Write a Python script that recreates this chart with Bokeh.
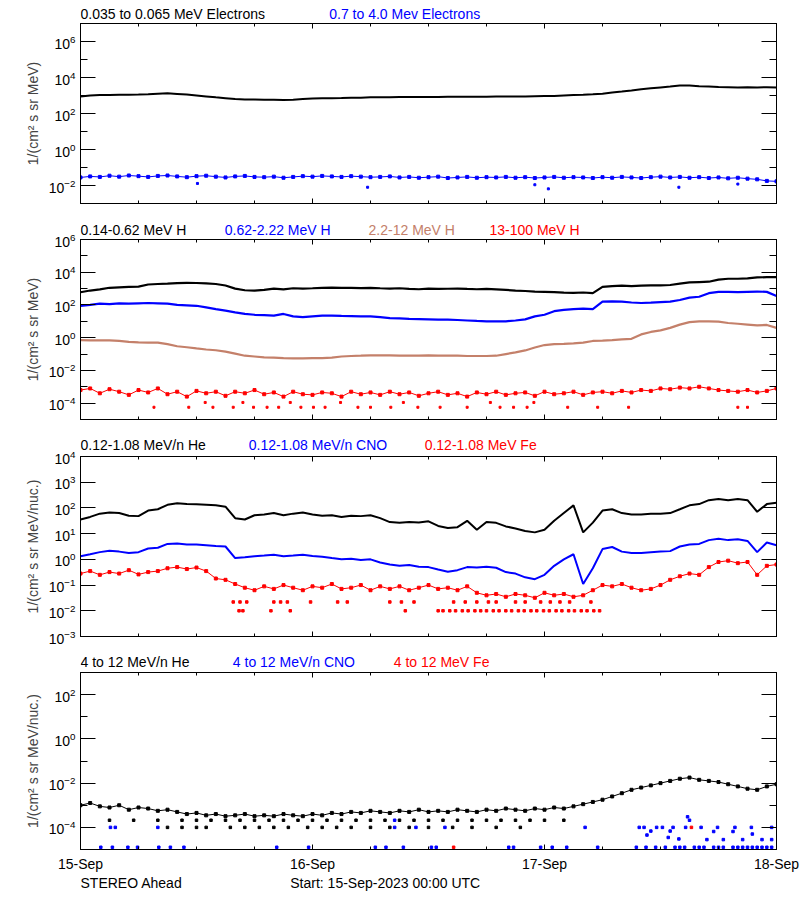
from bokeh.plotting import figure
from bokeh.layouts import column
from bokeh.models import (LogAxis, LinearAxis, FixedTicker, Range1d,
                          CustomJSTickFormatter, LogTickFormatter)
from bokeh.core.properties import value
from bokeh.embed import file_html
from bokeh.resources import INLINE

FONT = "Liberation Sans"
BLACK, BLUE, BROWN, RED = "#000000", "#0000FF", "#C4806A", "#FF0000"

# ---------------- time axis (hours since 15-Sep-2023 00:00 UTC) ----------------
hours = list(range(73))
day_ticks = [0, 24, 48, 72]
day_labels = ["15-Sep", "16-Sep", "17-Sep", "18-Sep"]
six_hour_ticks = [6, 12, 18, 30, 36, 42, 54, 60, 66]

# ---------------- panel 1 : electrons ----------------
e_035_065 = [890, 1000, 1050, 1070, 1100, 1100, 1120, 1170, 1260, 1320,
             1230, 1120, 1000, 890, 790, 710, 630, 600, 590, 575,
             575, 560, 575, 630, 690, 710, 710, 720, 740, 760,
             790, 790, 810, 830, 830, 830, 830, 830, 850, 850,
             850, 850, 850, 870, 870, 890, 890, 910, 930, 950,
             1000, 1050, 1100, 1170, 1260, 1450, 1660, 1910, 2240, 2510,
             2820, 3160, 3550, 3550, 3310, 3160, 2950, 2880, 2820, 2880,
             2820, 2880, 2820]
e_07_40 = [0.028, 0.032, 0.030, 0.035, 0.031, 0.036, 0.033, 0.030, 0.034, 0.036,
           0.032, 0.029, 0.033, 0.035, 0.031, 0.028, 0.032, 0.034, 0.030, 0.029,
           0.031, 0.027, 0.030, 0.033, 0.031, 0.034, 0.032, 0.030, 0.033, 0.031,
           0.029, 0.030, 0.032, 0.028, 0.030, 0.027, 0.029, 0.031, 0.026, 0.028,
           0.030, 0.027, 0.029, 0.028, 0.030, 0.027, 0.029, 0.026, 0.028, 0.030,
           0.027, 0.029, 0.028, 0.026, 0.029, 0.027, 0.030, 0.028, 0.026, 0.029,
           0.031, 0.028, 0.030, 0.027, 0.029, 0.026, 0.028, 0.025, 0.027, 0.024,
           0.022, 0.018, 0.017]
e_07_40_low_t = [12.1, 29.7, 47.0, 48.4, 61.9, 68.0]
e_07_40_low = [0.013, 0.008, 0.011, 0.0065, 0.008, 0.012]

# ---------------- panel 2 : protons ----------------
h_014_062 = [600, 760, 890, 1120, 1200, 1260, 1320, 1780, 1910, 2000,
             2140, 2240, 2190, 2090, 1910, 1550, 1000, 790, 760, 830,
             1000, 890, 1050, 1000, 1050, 1120, 1150, 1120, 1100, 1070,
             1120, 1050, 1000, 1050, 950, 910, 1000, 950, 980, 1000,
             950, 910, 950, 890, 830, 760, 710, 660, 630, 600,
             560, 550, 575, 525, 1260, 1410, 1510, 1410, 1510, 1580,
             1580, 1660, 2000, 2400, 2510, 2630, 3550, 3980, 3980, 4170,
             4790, 5010, 5010]
h_062_222 = [89, 100, 120, 112, 126, 120, 126, 132, 126, 120,
             100, 95, 89, 71, 56, 45, 35.5, 28.2, 25.1, 24,
             22.4, 28.2, 20, 17.8, 20, 22.4, 22.4, 21.4, 20.9, 20,
             20, 17.8, 15.8, 15.1, 14.1, 13.8, 13.2, 12.6, 12.6, 12.0,
             11.2, 10.5, 10, 10, 10, 11.2, 13.2, 20, 25.1, 41.7,
             50, 56, 60, 56, 158, 166, 158, 141, 132, 138,
             148, 158, 200, 282, 316, 525, 631, 631, 603, 631,
             661, 631, 355]
h_22_12 = [0.71, 0.69, 0.68, 0.68, 0.63, 0.56, 0.52, 0.50, 0.50, 0.40,
           0.30, 0.26, 0.22, 0.19, 0.17, 0.14, 0.105, 0.079, 0.071, 0.063,
           0.060, 0.056, 0.054, 0.054, 0.056, 0.056, 0.060, 0.071, 0.076, 0.079,
           0.083, 0.083, 0.083, 0.079, 0.079, 0.079, 0.083, 0.079, 0.079, 0.079,
           0.076, 0.076, 0.076, 0.079, 0.10, 0.126, 0.166, 0.25, 0.355, 0.40,
           0.42, 0.45, 0.50, 0.63, 0.66, 0.71, 0.79, 0.85, 1.58, 2.24,
           2.82, 3.98, 6.3, 8.9, 10, 10, 9.5, 7.9, 7.1, 6.3,
           5.6, 6.0, 4.0]
h_13_100 = [6.3e-4, 7.9e-4, 4.0e-4, 7.1e-4, 5.0e-4, 3.2e-4, 6.3e-4, 4.5e-4, 7.9e-4, 3.5e-4,
            5.0e-4, 2.5e-4, 5.6e-4, 4.0e-4, 5.0e-4, 2.8e-4, 5.0e-4, 4.0e-4, 6.3e-4, 3.5e-4,
            4.5e-4, 2.5e-4, 5.0e-4, 3.5e-4, 3.2e-4, 4.5e-4, 4.0e-4, 2.5e-4, 5.0e-4, 3.5e-4,
            4.5e-4, 3.2e-4, 5.0e-4, 3.5e-4, 4.5e-4, 2.8e-4, 4.0e-4, 5.0e-4, 3.2e-4, 4.0e-4,
            2.5e-4, 4.5e-4, 3.5e-4, 5.0e-4, 3.2e-4, 4.0e-4, 4.5e-4, 2.8e-4, 5.0e-4, 3.5e-4,
            4.0e-4, 5.0e-4, 3.2e-4, 4.5e-4, 5.0e-4, 4.0e-4, 5.6e-4, 4.5e-4, 6.3e-4, 5.6e-4,
            7.9e-4, 7.1e-4, 8.9e-4, 7.9e-4, 1.0e-3, 7.9e-4, 6.3e-4, 5.6e-4, 5.0e-4, 6.3e-4,
            4.5e-4, 5.6e-4, 7.9e-4]
h_13_100_low_t = [7.6, 11.2, 12.9, 13.7, 15.8, 16.8, 17.9, 19.3, 20.5, 21.7, 22.8,
                  24.1, 25.3, 26.9, 28.7, 30.0, 32.1, 33.4, 34.9, 37.2, 40.0, 42.4,
                  43.4, 44.8, 46.2, 46.9, 50.4, 53.5, 56.7, 68.0, 69.0]
h_13_100_low = [5.6e-5, 5.6e-5, 1.1e-4, 5.6e-5, 5.6e-5, 1.1e-4, 5.6e-5, 5.6e-5, 5.6e-5, 1.1e-4, 5.6e-5,
                5.6e-5, 5.6e-5, 1.1e-4, 5.6e-5, 5.6e-5, 5.6e-5, 1.1e-4, 5.6e-5, 5.6e-5, 5.6e-5, 1.1e-4,
                5.6e-5, 5.6e-5, 5.6e-5, 1.1e-4, 5.6e-5, 5.6e-5, 5.6e-5, 5.6e-5, 5.6e-5]

# ---------------- panel 3 : 0.12-1.08 MeV/n ions ----------------
he_lo = [35.5, 44.7, 60, 66, 63, 50, 48, 79, 89, 132,
         151, 141, 138, 132, 126, 112, 40, 35.5, 52, 56,
         63, 52, 60, 66, 56, 50, 52, 44.7, 50, 48,
         52, 40, 28.2, 26.3, 28.2, 26.9, 30.2, 20, 16.6, 17.8,
         31.6, 14.1, 28.2, 26.3, 19.1, 15.8, 12.6, 11.2, 14.1, 31.6,
         63, 126, 11.2, 26.9, 79, 89, 63, 56, 56, 60,
         60, 63, 89, 126, 141, 200, 224, 200, 224, 200,
         71, 141, 158]
cno_lo = [1.32, 1.58, 1.91, 2.14, 2.0, 1.78, 1.91, 2.63, 2.82, 3.98,
          4.17, 3.8, 3.8, 3.55, 3.31, 3.16, 1.12, 1.2, 1.32, 1.41,
          1.51, 1.32, 1.41, 1.51, 1.35, 1.26, 1.12, 1.0, 1.05, 0.95,
          1.0, 0.76, 0.63, 0.56, 0.60, 0.52, 0.50, 0.40, 0.33, 0.38,
          0.50, 0.48, 0.52, 0.47, 0.32, 0.28, 0.20, 0.17, 0.25, 0.56,
          1.0, 1.58, 0.11, 0.45, 2.51, 3.02, 2.0, 1.78, 1.78, 1.91,
          2.0, 2.09, 3.16, 3.8, 3.98, 5.6, 6.3, 5.6, 6.0, 5.2,
          1.91, 4.5, 3.55]
fe_lo = [0.28, 0.35, 0.25, 0.32, 0.28, 0.38, 0.26, 0.32, 0.35, 0.45,
         0.50, 0.42, 0.48, 0.35, 0.18, 0.16, 0.11, 0.079, 0.063, 0.089,
         0.071, 0.10, 0.079, 0.063, 0.089, 0.079, 0.11, 0.071, 0.079, 0.10,
         0.063, 0.089, 0.071, 0.089, 0.063, 0.079, 0.10, 0.071, 0.079, 0.063,
         0.089, 0.050, 0.040, 0.045, 0.035, 0.045, 0.040, 0.032, 0.050, 0.040,
         0.045, 0.035, 0.040, 0.063, 0.10, 0.089, 0.11, 0.079, 0.063, 0.071,
         0.10, 0.16, 0.22, 0.28, 0.25, 0.50, 0.79, 0.89, 0.71, 0.79,
         0.25, 0.56, 0.63]
fe_lo_floor_t = [16.4, 16.8, 19.7, 21.7, 33.6, 37.0, 37.5, 38.2, 38.8, 39.5, 40.1, 40.8,
                 41.4, 42.0, 42.7, 43.3, 44.0, 44.6, 45.3, 45.9, 46.6, 47.2, 47.9, 48.5,
                 49.2, 49.8, 50.5, 51.1, 51.8, 52.4, 53.1, 53.7]
fe_lo_floor = [0.01] * len(fe_lo_floor_t)
fe_lo_mid_t = [15.8, 16.5, 17.2, 20.0, 20.7, 21.4, 23.8, 26.6, 27.6, 32.0, 33.2, 34.5,
               38.6, 39.8, 41.0, 42.2, 43.0, 45.0, 46.0, 47.6, 48.6, 49.6, 50.6, 52.8]
fe_lo_mid = [0.022] * len(fe_lo_mid_t)

# ---------------- panel 4 : 4-12 MeV/n ions ----------------
he_hi = [1.0e-3, 1.26e-3, 8.9e-4, 7.9e-4, 1.0e-3, 6.3e-4, 7.9e-4, 7.1e-4, 5.6e-4, 6.3e-4,
         5.0e-4, 4.0e-4, 4.5e-4, 3.5e-4, 4.0e-4, 3.2e-4, 3.5e-4, 4.0e-4, 3.2e-4, 3.5e-4,
         3.2e-4, 4.0e-4, 3.5e-4, 3.2e-4, 4.0e-4, 3.5e-4, 4.5e-4, 4.0e-4, 5.0e-4, 4.5e-4,
         5.6e-4, 5.0e-4, 4.5e-4, 5.6e-4, 5.0e-4, 6.3e-4, 5.0e-4, 5.6e-4, 5.0e-4, 6.3e-4,
         5.6e-4, 5.0e-4, 6.3e-4, 5.6e-4, 7.1e-4, 6.3e-4, 5.6e-4, 7.1e-4, 6.3e-4, 7.9e-4,
         7.1e-4, 8.9e-4, 1.12e-3, 1.41e-3, 1.78e-3, 2.5e-3, 3.5e-3, 5.0e-3, 6.3e-3, 7.9e-3,
         1.0e-2, 1.26e-2, 1.58e-2, 1.78e-2, 1.41e-2, 1.26e-2, 1.12e-2, 8.9e-3, 7.1e-3, 5.6e-3,
         5.0e-3, 7.1e-3, 8.9e-3]
he_hi_row2_t = [3.0, 5.5, 8.0, 10.5, 12.0, 13.5, 15.0, 16.5, 18.0, 19.5, 21.0, 22.5, 24.0,
                25.5, 27.0, 28.5, 30.0, 31.5, 33.0, 34.5, 36.0, 37.5, 39.0, 40.5, 42.0,
                43.5, 45.0, 46.5, 48.0, 50.0]
he_hi_row2 = [2.1e-4] * len(he_hi_row2_t)
he_hi_row1_t = [9.0, 10.5, 12.0, 13.0, 15.5, 17.0, 18.5, 20.0, 21.5, 23.5, 25.0, 26.5,
                28.0, 30.0, 32.0, 34.0, 36.0, 38.5, 40.5, 43.0, 45.5]
he_hi_row1 = [1.0e-4] * len(he_hi_row1_t)
cno_hi_t = [2.1, 3.3, 4.9, 5.9, 8.1, 9.3, 10.7, 20.3, 23.6, 30.5, 31.6, 33.4, 36.3, 36.8,
            44.3, 44.8, 47.6, 48.8, 50.3, 53.5, 57.5, 58.5, 59.5, 60.5, 61.5, 62.0, 62.5,
            63.5, 64.0, 64.5, 65.5, 66.0, 66.5, 67.5, 68.0, 68.5, 69.0, 69.5, 70.0, 70.5,
            71.0, 71.5,
            3.1, 3.6, 8.0, 32.5, 34.7, 37.7, 52.2, 57.8, 58.3, 59.6, 60.2, 61.3, 62.6,
            64.2, 65.9, 67.7, 69.4, 71.5,
            32.5, 63.0, 62.8, 58.6, 60.8, 61.9, 64.8, 65.5, 66.5, 67.5, 68.5, 69.5, 70.5,
            71.5, 59.0, 61.0]
cno_hi = [1.26e-5] * 42 + [1.0e-4] * 18 + [2.1e-4, 2.1e-4, 3.0e-4, 4.5e-5, 3.5e-5, 3.0e-5,
                                            2.8e-5, 6.5e-5, 2.8e-5, 6.5e-5, 2.8e-5, 5.0e-5,
                                            2.8e-5, 2.8e-5, 6.8e-5, 6.8e-5]
fe_hi_t = [38.6, 63.2]
fe_hi = [1.26e-5, 1.0e-4]

# ---------------- texts ----------------
titles_1 = ["0.035 to 0.065 MeV Electrons", "0.7 to 4.0 Mev Electrons"]
titles_2 = ["0.14-0.62 MeV H", "0.62-2.22 MeV H", "2.2-12 MeV H", "13-100 MeV H"]
titles_3 = ["0.12-1.08 MeV/n He", "0.12-1.08 MeV/n CNO", "0.12-1.08 MeV Fe"]
titles_4 = ["4 to 12 MeV/n He", "4 to 12 MeV/n CNO", "4 to 12 MeV Fe"]
footer = ["STEREO Ahead", "Start: 15-Sep-2023 00:00 UTC"]
YL1 = "1/(cm\u00b2 s sr MeV)"
YL2 = "1/(cm\u00b2 s sr MeV/nuc.)"

W = 800
BL, BR = 80, 24
OVERLAP = 12   # panel canvases reach up under the title strip so edge tick labels fit


def style_axis(ax, major_in, minor_in):
    ax.major_tick_in = major_in
    ax.major_tick_out = 0
    ax.minor_tick_in = minor_in
    ax.minor_tick_out = 0
    ax.axis_line_color = "black"
    ax.major_tick_line_color = "black"
    ax.minor_tick_line_color = "black"
    ax.major_label_text_font = FONT
    ax.major_label_text_font_size = "14px"
    ax.major_label_text_color = "black"


def blank():
    return CustomJSTickFormatter(code="return ''")


def make_panel(height, top, bottom, ylo, yhi, major, minor, ylabel, dates=False, overlap=0):
    p = figure(width=W, height=height + overlap, x_range=Range1d(0, 72),
               y_range=Range1d(ylo, yhi),
               y_axis_type="log", output_backend="svg", toolbar_location=None,
               min_border_left=BL, min_border_right=BR, min_border_top=top + overlap,
               min_border_bottom=bottom)
    p.grid.visible = False
    p.outline_line_color = "black"
    p.outline_line_alpha = 1.0
    p.outline_line_width = 1
    p.background_fill_color = "white"
    if overlap:
        p.border_fill_color = None
        p.margin = (-overlap, 0, 0, 0)
    else:
        p.border_fill_color = "white"

    xa = p.xaxis[0]
    xa.ticker = FixedTicker(ticks=day_ticks, minor_ticks=six_hour_ticks)
    style_axis(xa, 5, 3)
    if dates:
        xa.major_label_overrides = dict(zip(day_ticks, day_labels))
        xa.major_label_standoff = 6
    else:
        xa.formatter = blank()
        xa.major_label_standoff = 0
    ta = LinearAxis(ticker=FixedTicker(ticks=day_ticks, minor_ticks=six_hour_ticks),
                    formatter=blank(), major_label_standoff=0)
    style_axis(ta, 5, 3)
    p.add_layout(ta, "above")

    ya = p.yaxis[0]
    ya.ticker = FixedTicker(ticks=major, minor_ticks=minor)
    ya.formatter = LogTickFormatter()
    style_axis(ya, 15, 7)
    ya.major_label_standoff = 5
    ya.axis_label = ylabel
    ya.axis_label_text_font = FONT
    ya.axis_label_text_font_size = "14px"
    ya.axis_label_text_font_style = "normal"
    ya.axis_label_standoff = 5
    ra = LogAxis(ticker=FixedTicker(ticks=major, minor_ticks=minor),
                 formatter=blank(), major_label_standoff=0)
    style_axis(ra, 15, 7)
    p.add_layout(ra, "right")
    return p


def make_strip(height, ypos, texts, xs, colors):
    s = figure(width=W, height=height, x_range=Range1d(0, 72), y_range=Range1d(0, height),
               output_backend="svg", toolbar_location=None,
               min_border_left=BL, min_border_right=BR, min_border_top=0, min_border_bottom=0,
               x_axis_location=None, y_axis_location=None)
    s.grid.visible = False
    s.outline_line_color = None
    s.border_fill_color = "white"
    s.background_fill_color = "white"
    s.text(x=xs, y=[ypos] * len(texts), text=texts, text_color=colors,
           text_font=value(FONT), text_font_size=value("14px"),
           text_baseline="middle", text_align="left")
    return s


# ---- panel 1
s1 = make_strip(22, 8.7, titles_1, [0, 25.73], [BLACK, BLUE])
p1 = make_panel(190, 1, 9, 1e-3, 1e7, [1e-2, 1, 1e2, 1e4, 1e6],
                [1e-3, 1e-1, 1e1, 1e3, 1e5, 1e7], YL1)
p1.line(hours, e_035_065, color=BLACK, line_width=2)
p1.line(hours, e_07_40, color=BLUE, line_width=1)
p1.scatter(hours, e_07_40, marker="square", size=3, color=BLUE)
p1.scatter(e_07_40_low_t, e_07_40_low, marker="square", size=2, color=BLUE)

# ---- panel 2
s2 = make_strip(26, 8.7, titles_2, [0, 14.93, 29.8, 42.3], [BLACK, BLUE, BROWN, RED])
p2 = make_panel(190, 1, 9, 1e-5, 1e6, [1e-4, 1e-2, 1, 1e2, 1e4, 1e6],
                [1e-3, 1e-1, 1e1, 1e3, 1e5], YL1, overlap=OVERLAP)
p2.line(hours, h_014_062, color=BLACK, line_width=2.2)
p2.line(hours, h_062_222, color=BLUE, line_width=2.2)
p2.line(hours, h_22_12, color=BROWN, line_width=2.2)
p2.line(hours, h_13_100, color=RED, line_width=1)
p2.scatter(hours, h_13_100, marker="square", size=3, color=RED)
p2.scatter(h_13_100_low_t, h_13_100_low, marker="square", size=2, color=RED)

# ---- panel 3
s3 = make_strip(27, 10.5, titles_3, [0, 17.4, 35.6], [BLACK, BLUE, RED])
p3 = make_panel(190, 1, 9, 1e-3, 1e4, [1e-3, 1e-2, 1e-1, 1, 1e1, 1e2, 1e3, 1e4], [], YL2,
                overlap=OVERLAP)
p3.line(hours, he_lo, color=BLACK, line_width=2)
p3.line(hours, cno_lo, color=BLUE, line_width=2)
p3.line(hours, fe_lo, color=RED, line_width=1)
p3.scatter(hours, fe_lo, marker="square", size=3, color=RED)
p3.scatter(fe_lo_floor_t, fe_lo_floor, marker="square", size=2.5, color=RED)
p3.scatter(fe_lo_mid_t, fe_lo_mid, marker="square", size=2.5, color=RED)

# ---- panel 4 (carries the day labels of the time axis)
s4 = make_strip(26, 10, titles_4, [0, 15.76, 32.4], [BLACK, BLUE, RED])
p4 = make_panel(203, 1, 22, 1e-5, 1e3, [1e-4, 1e-2, 1, 1e2], [1e-3, 1e-1, 1e1], YL2,
                dates=True)
p4.line(hours, he_hi, color=BLACK, line_width=1)
p4.scatter(hours, he_hi, marker="square", size=3, color=BLACK)
p4.scatter(he_hi_row2_t, he_hi_row2, marker="square", size=2.5, color=BLACK)
p4.scatter(he_hi_row1_t, he_hi_row1, marker="square", size=2.5, color=BLACK)
p4.scatter(cno_hi_t, cno_hi, marker="square", size=2.5, color=BLUE)
p4.scatter(fe_hi_t, fe_hi, marker="square", size=2.5, color=RED)

# ---- footer
s5 = make_strip(26, 17.8, footer, [0, 21.7], [BLACK, BLACK])

layout = column(s1, p1, s2, p2, s3, p3, s4, p4, s5)
open("out.html", "w").write(file_html(layout, INLINE))
